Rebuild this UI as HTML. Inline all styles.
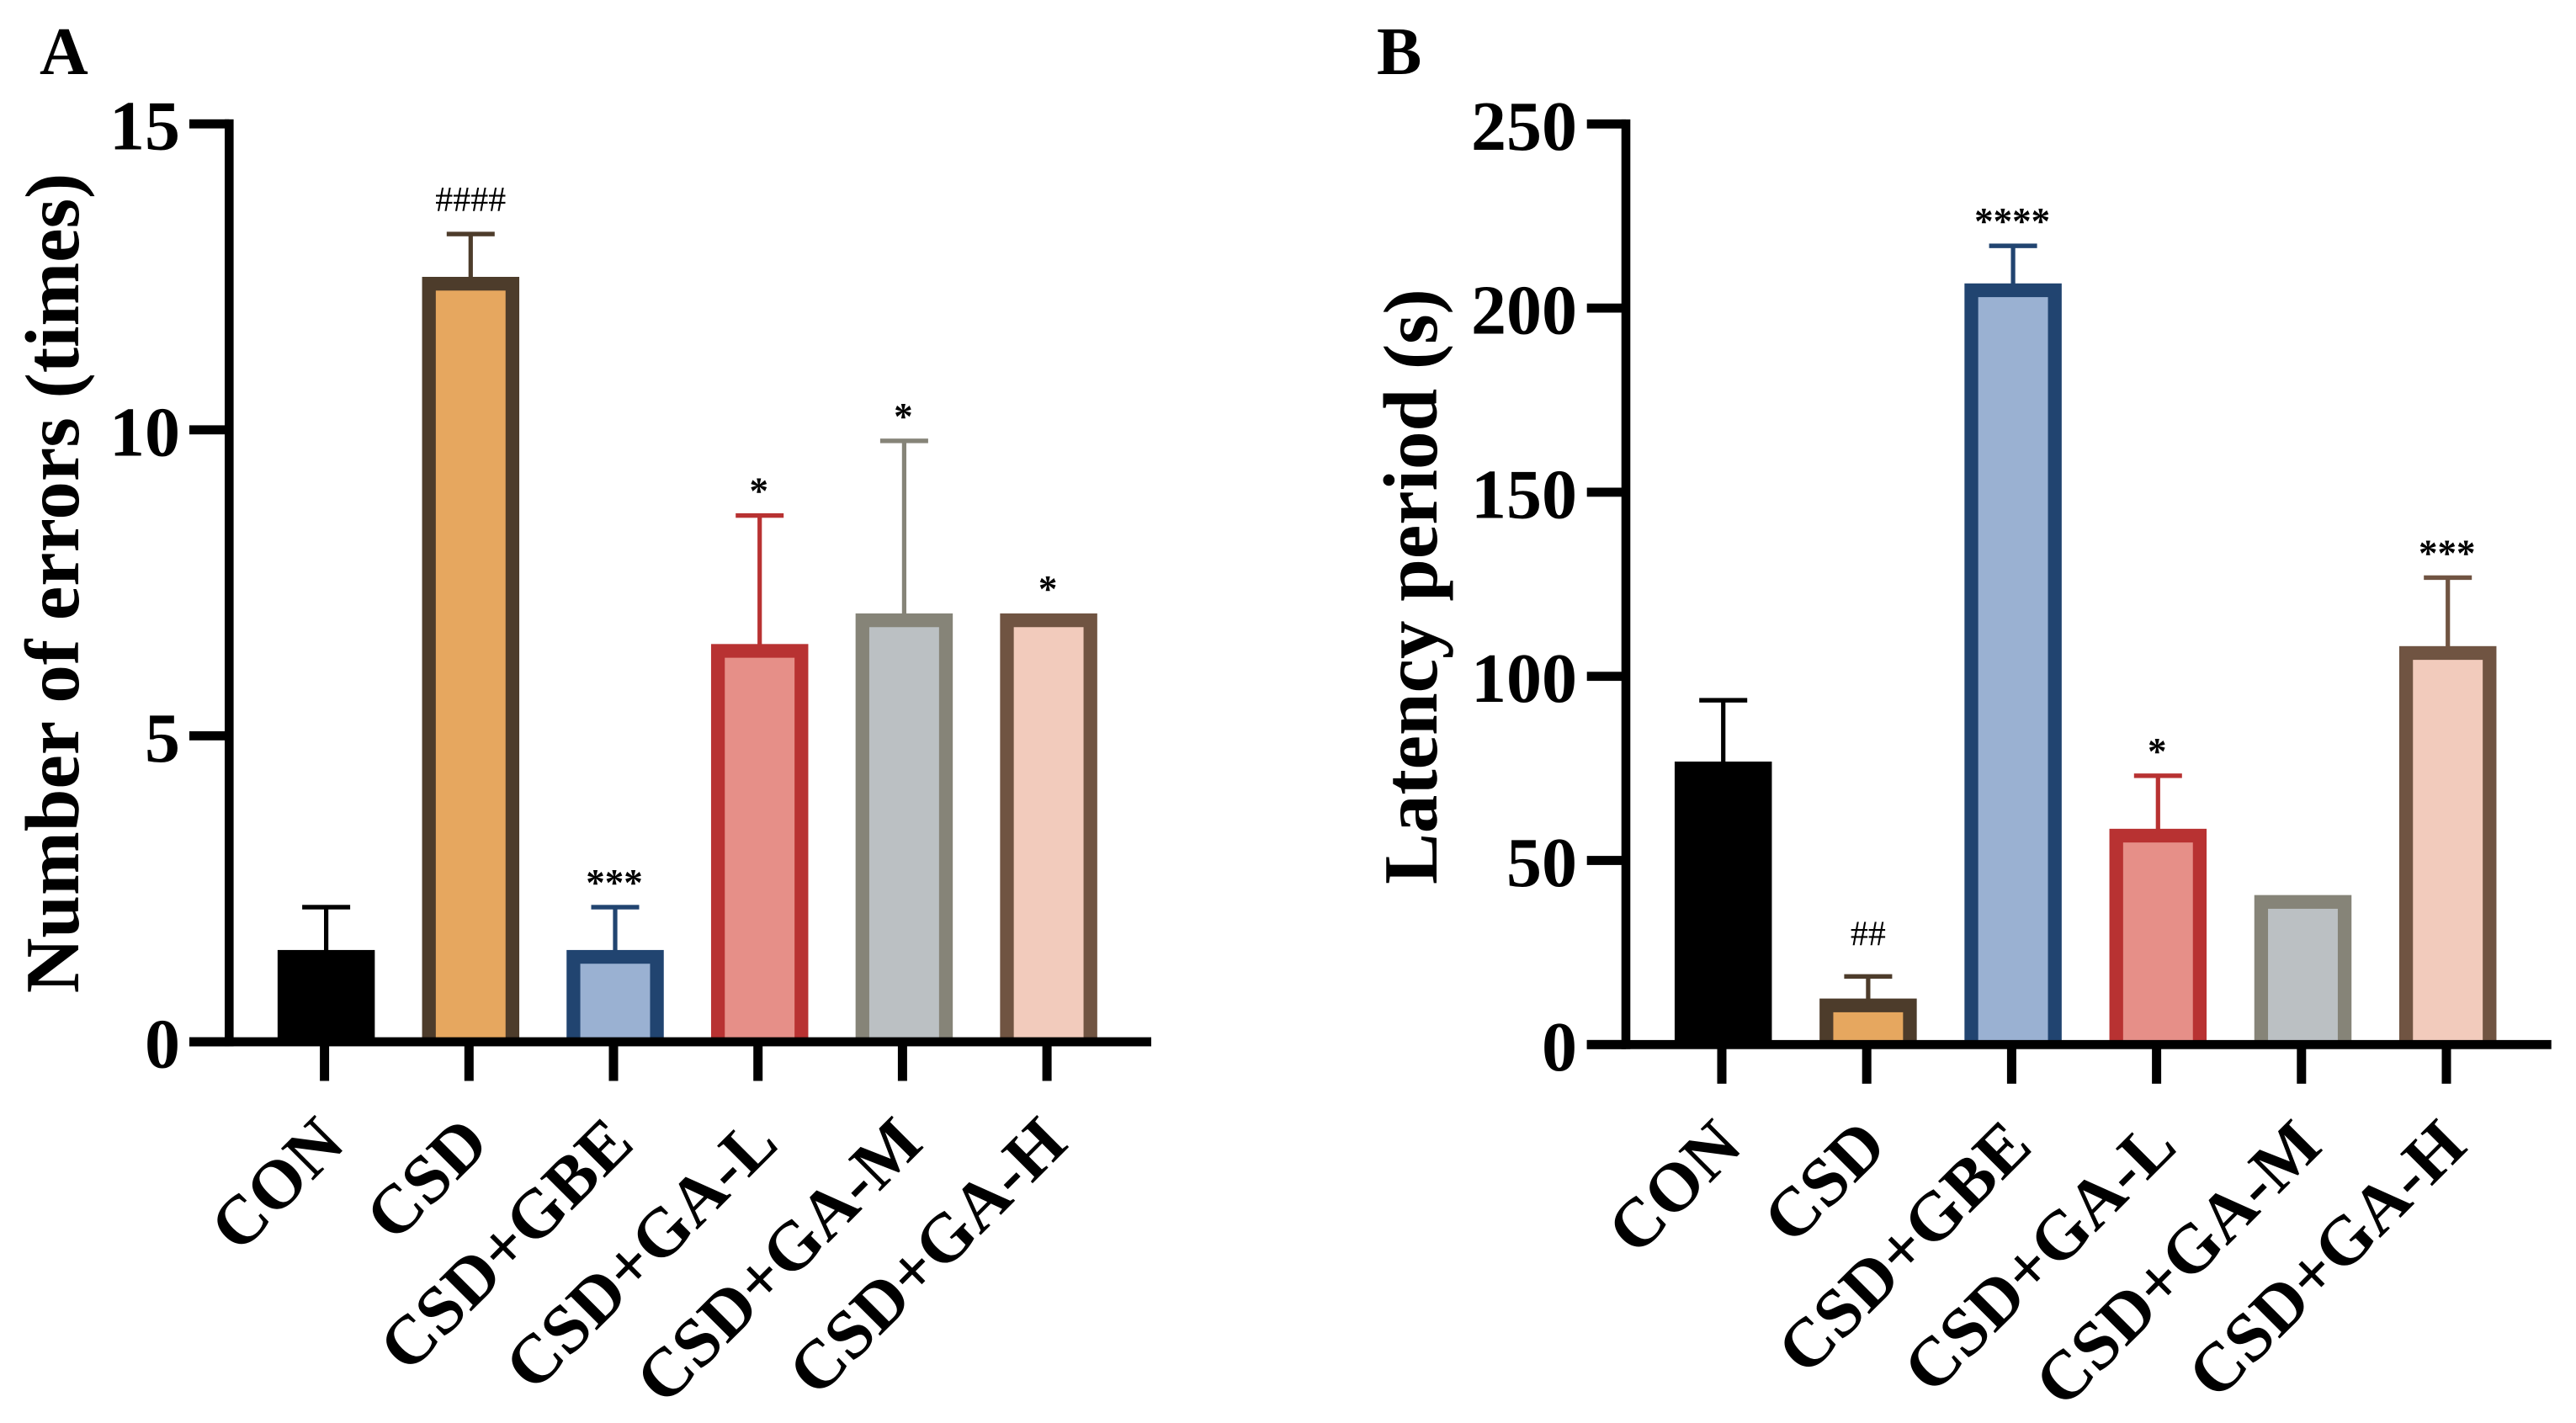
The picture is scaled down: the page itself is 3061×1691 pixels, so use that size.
<!DOCTYPE html>
<html lang="en">
<head>
<meta charset="utf-8">
<title>Errors and latency bar charts</title>
<style>
html,body{margin:0;padding:0;background:#fff;width:3061px;height:1691px;overflow:hidden}
svg{display:block}
text{font-family:"Liberation Serif",serif;fill:#000}
</style>
</head>
<body>
<svg id="figure" xmlns="http://www.w3.org/2000/svg" width="3061" height="1691" viewBox="0 0 3061 1691">
<rect width="3061" height="1691" fill="#fff"/>
</svg>
<script>
const categories = ['CON', 'CSD', 'CSD+GBE', 'CSD+GA-L', 'CSD+GA-M', 'CSD+GA-H'];
const errorsMeans = [1.5, 12.5, 1.5, 6.5, 7, 7];
const errorsUpper = [2.2, 13.2, 2.2, 8.6, 9.82, 7];
const errorsMarks = ['', '####', '***', '*', '*', '*'];
const errorsTicks = [0, 5, 10, 15];
const latencyMeans = [76.85, 12.5, 206.7, 58.6, 40.6, 108.2];
const latencyUpper = [93.5, 18.5, 216.9, 73, 40.6, 126.8];
const latencyMarks = ['', '##', '****', '*', '', '***'];
const latencyTicks = [0, 50, 100, 150, 200, 250];
const strokeColors = ['#000000', '#4d3c2b', '#214470', '#b83232', '#868478', '#705442'];
const fillColors = ['#000000', '#e6a75f', '#9ab1d2', '#e68f88', '#bbc0c3', '#f2cbbc'];

const svg = document.getElementById('figure');
const NS = 'http://www.w3.org/2000/svg';

function make(tag, attrs, text) {
  const el = document.createElementNS(NS, tag);
  for (const k in attrs) el.setAttribute(k, attrs[k]);
  if (text !== undefined) el.textContent = text;
  svg.appendChild(el);
  return el;
}

function drawPanel(cfg, means, upper, marks, ticks) {
  const maxTick = ticks[ticks.length - 1];
  const y = v => cfg.y0 - (v / maxTick) * (cfg.y0 - cfg.yTop);
  const tickX = i => cfg.x0 + i * cfg.step;
  const barX = i => tickX(i) + cfg.barShift;
  const slug = cfg.slug;

  means.forEach((m, i) => {
    const cx = barX(i);
    const top = y(m);
    const hw = cfg.barW / 2;
    if (upper[i] > m) {
      const stem = make('rect', {x: cx - 2.6, y: y(upper[i]), width: 5.2, height: top - y(upper[i]) + 2, fill: strokeColors[i]});
      
      
      const cap = make('rect', {x: cx - 28.5, y: y(upper[i]) - 2.7, width: 57, height: 5.4, fill: strokeColors[i]});
      
      
    }
    const outer = make('rect', {x: cx - hw, y: top, width: cfg.barW, height: cfg.y0 - top, fill: strokeColors[i]});
    
    
    const inner = make('rect', {x: cx - hw + 16.3, y: top + 16.3, width: cfg.barW - 32.6, height: Math.max(0, cfg.y0 - top - 16.3), fill: fillColors[i]});
    
    
    if (marks[i]) {
      const isHash = marks[i][0] === '#';
      const gap = isHash ? (marks[i].length > 2 ? 27 : 37) : 14;
      const anchorY = Math.min(top, y(upper[i]));
      const label = make('text', {x: isHash ? cx : cx - 1, y: anchorY - gap, 'text-anchor': 'middle', 'font-size': isHash ? 42 : 45, 'font-weight': isHash ? 400 : 700}, marks[i]);
      
      
    }
  });

  const yAxis = make('rect', {x: cfg.axisX - 5.3, y: cfg.yTop - 5.4, width: 10.6, height: cfg.y0 - cfg.yTop + 10.8, fill: '#000'});
  
  
  const xAxis = make('rect', {x: cfg.tickLeft, y: cfg.y0 - 5.4, width: cfg.xEnd - cfg.tickLeft, height: 10.8, fill: '#000'});
  
  

  ticks.forEach(t => {
    const ty = y(t);
    const tick = make('rect', {x: cfg.tickLeft, y: ty - 5.4, width: cfg.axisX - cfg.tickLeft, height: 10.8, fill: '#000'});
    
    
    const label = make('text', {x: cfg.tickLabelX, y: ty + 30.5, 'text-anchor': 'end', 'font-size': 84, 'font-weight': 700}, String(t));
    
    
  });

  categories.forEach((c, i) => {
    const tx = tickX(i);
    const tick = make('rect', {x: tx - 5.5, y: cfg.y0, width: 11, height: 46.5, fill: '#000'});
    
    
    const lx = tx + 27;
    const ly = cfg.y0 + 124;
    const label = make('text', {x: lx, y: ly, 'text-anchor': 'end', 'font-size': 82, 'font-weight': 700, transform: 'rotate(-45 ' + lx + ' ' + ly + ')'}, c);
    
    
  });

  const title = make('text', {x: cfg.titleX, y: cfg.titleY, 'text-anchor': 'middle', 'font-size': 91, 'font-weight': 700, transform: 'rotate(-90 ' + cfg.titleX + ' ' + cfg.titleY + ')'}, cfg.title);
  
  
  const letter = make('text', {x: cfg.letterX, y: 88, 'font-size': 80, 'font-weight': 700}, cfg.letter);
  
  
}

drawPanel({slug: 'panel-a', letter: 'A', letterX: 47, title: 'Number of errors (times)', titleX: 93, titleY: 693,
  y0: 1238, yTop: 147.2, axisX: 272.3, tickLeft: 225, xEnd: 1368, x0: 385.6, step: 171.7, barShift: 2, barW: 115.5, tickLabelX: 214},
  errorsMeans, errorsUpper, errorsMarks, errorsTicks);

drawPanel({slug: 'panel-b', letter: 'B', letterX: 1636, title: 'Latency period (s)', titleX: 1707, titleY: 697,
  y0: 1241.3, yTop: 147.3, axisX: 1932, tickLeft: 1885.7, xEnd: 3031.7, x0: 2046, step: 172.2, barShift: 1.7, barW: 115.5, tickLabelX: 1874},
  latencyMeans, latencyUpper, latencyMarks, latencyTicks);
</script>
</body>
</html>
